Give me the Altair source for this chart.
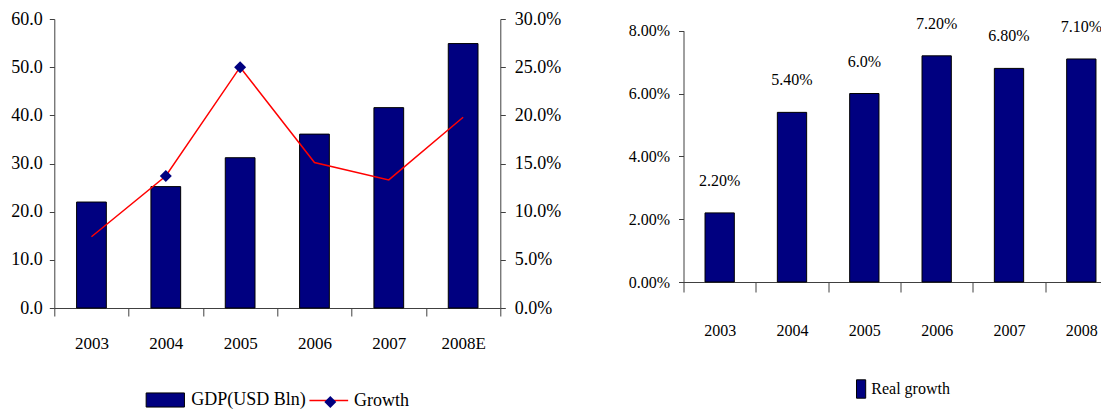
import altair as alt
import pandas as pd

# ---- data ----
years_gdp = ["2003", "2004", "2005", "2006", "2007", "2008E"]
gdp_usd_bln = [22.0, 25.2, 31.2, 36.1, 41.6, 54.9]
growth = [0.074, 0.137, 0.250, 0.151, 0.133, 0.198]
growth_marker = [False, True, True, False, False, False]

years_real = ["2003", "2004", "2005", "2006", "2007", "2008"]
real_growth = [0.022, 0.054, 0.060, 0.072, 0.068, 0.071]
real_labels = ["2.20%", "5.40%", "6.0%", "7.20%", "6.80%", "7.10%"]

left_ticks = [0, 10, 20, 30, 40, 50, 60]
right_ticks = [0.0, 0.05, 0.10, 0.15, 0.20, 0.25, 0.30]
real_ticks = [0.0, 0.02, 0.04, 0.06, 0.08]

NAVY = "#000080"
RED = "#ff0000"
AX = "#404040"
FONT = "Liberation Serif, Times New Roman, Times, serif"

left_df = pd.DataFrame({"year": years_gdp, "gdp": gdp_usd_bln,
                        "growth": growth, "marker": growth_marker,
                        "s_gdp": ["GDP(USD Bln)"] * 6,
                        "s_growth": ["Growth"] * 6})
right_df = pd.DataFrame({"year": years_real, "real": real_growth,
                         "label": real_labels,
                         "s_real": ["Real growth"] * 6})

LW, LH = 446, 289
RW, RH = 434, 263

# ---------------- left chart ----------------
xl = alt.X("year:N", sort=years_gdp,
           scale=alt.Scale(paddingInner=0, paddingOuter=0),
           axis=alt.Axis(title=None, labelAngle=0, tickBand="extent",
                         tickSize=8, labelPadding=19, labelFontSize=17))

bars = alt.Chart(left_df).mark_bar(
    width=alt.RelativeBandSize(0.40), stroke="black", strokeWidth=1
).encode(
    x=xl,
    y=alt.Y("gdp:Q", scale=alt.Scale(domain=[0, 60], nice=False),
            axis=alt.Axis(title=None, values=left_ticks, format=".1f",
                          tickSize=5, labelPadding=7, labelFontSize=18)),
    color=alt.Color(
        "s_gdp:N", scale=alt.Scale(range=[NAVY]),
        legend=alt.Legend(title=None, orient="none", legendX=91, legendY=361,
                          symbolType="M-1,-0.368H1V0.368H-1Z", symbolSize=1467,
                          symbolStrokeColor="black", symbolStrokeWidth=1,
                          labelOffset=6, labelFontSize=18, padding=0)),
)

y_growth = alt.Y("growth:Q", scale=alt.Scale(domain=[0, 0.30], nice=False),
                 axis=alt.Axis(title=None, orient="right", values=right_ticks,
                               format=".1%", tickSize=5, labelPadding=9,
                               labelFontSize=18))

line = alt.Chart(left_df).mark_line(strokeWidth=1.5).encode(
    x=xl,
    y=y_growth,
    stroke=alt.Stroke(
        "s_growth:N", scale=alt.Scale(range=[RED]),
        legend=alt.Legend(title=None, orient="none", legendX=254, legendY=361,
                          symbolType="stroke", symbolSize=1498,
                          symbolStrokeWidth=1.5, labelOffset=4.6,
                          labelFontSize=18, padding=0)),
)

points = alt.Chart(left_df).transform_filter("datum.marker").mark_point(
    shape="diamond", filled=True, size=144, opacity=1
).encode(
    x=xl,
    y=y_growth,
    fill=alt.Fill(
        "s_growth:N", scale=alt.Scale(range=[NAVY]),
        legend=alt.Legend(title=None, orient="none", legendX=267, legendY=374,
                          symbolType="diamond", symbolSize=144,
                          symbolStrokeWidth=0, labelExpr="''",
                          labelFontSize=18, padding=0)),
)

left = alt.layer(bars, alt.layer(line, points)).resolve_scale(
    y="independent").properties(width=LW, height=LH)

# ---------------- right chart ----------------
xr = alt.X("year:N", sort=years_real,
           scale=alt.Scale(paddingInner=0, paddingOuter=0),
           axis=alt.Axis(title=None, labelAngle=0, tickBand="extent",
                         tickSize=10, labelPadding=30, labelFontSize=16))
yr = alt.Y("real:Q", scale=alt.Scale(domain=[0, 0.08], nice=False,
                                     range=[RH, 11.7]),
           axis=alt.Axis(title=None, values=real_ticks, format=".2%",
                         tickSize=5, labelPadding=9, labelFontSize=16))

rbars = alt.Chart(right_df).mark_bar(
    width=alt.RelativeBandSize(0.405), stroke="black", strokeWidth=1
).encode(
    x=xr, y=yr,
    color=alt.Color(
        "s_real:N", scale=alt.Scale(range=[NAVY]),
        legend=alt.Legend(title=None, orient="none", legendX=163, legendY=360,
                          symbolType="M0,-1H1V1H0Z", symbolSize=338.6,
                          symbolStrokeColor="black", symbolStrokeWidth=1,
                          labelOffset=4.8, labelFontSize=16, padding=0)),
)

rtext = alt.Chart(right_df).mark_text(
    dy=-32, font=FONT, fontSize=16, color="black"
).encode(x=xr, y=yr, text="label:N")

right = alt.layer(rbars, rtext).properties(width=RW, height=RH)

# the reference crops the right panel at the picture's edge: fixed canvas
PAD_L, PAD_T = 46.3, 11
CANVAS_W, CANVAS_H = 1093, 401

chart = alt.hconcat(left, right, spacing=183.2).resolve_scale(
    color="independent"
).resolve_legend(
    color="independent"
).properties(
    bounds="flush",
    autosize=alt.AutoSizeParams(type="none"),
    padding={"left": PAD_L, "top": PAD_T,
             "right": CANVAS_W - PAD_L, "bottom": CANVAS_H - PAD_T},
).configure_view(
    strokeWidth=0
).configure_axis(
    grid=False, labelFont=FONT, labelColor="black",
    domainColor=AX, tickColor=AX, domainWidth=1, tickWidth=1
).configure_legend(
    labelFont=FONT, labelColor="black"
)

chart.save("out.html", embed_options={"renderer": "svg", "actions": False})
